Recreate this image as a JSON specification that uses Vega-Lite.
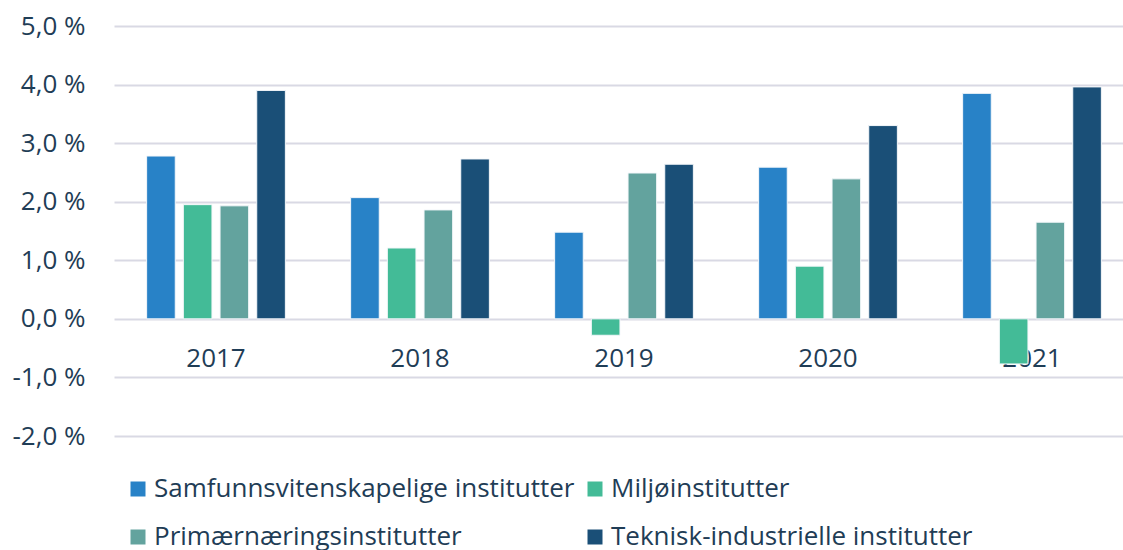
{
  "$schema": "https://vega.github.io/schema/vega-lite/v6.json",
  "width": 1009,
  "height": 410,
  "autosize": {"type": "none"},
  "padding": {"left": 114, "top": 26, "right": 0, "bottom": 114},
  "background": "white",
  "config": {"view": {"stroke": null}, "font": "Open Sans"},
  "data": {
    "values": [
      {"year": "2017", "serie": "Samfunnsvitenskapelige institutter", "value": 2.78},
      {"year": "2017", "serie": "Miljøinstitutter", "value": 1.95},
      {"year": "2017", "serie": "Primærnæringsinstitutter", "value": 1.93},
      {"year": "2017", "serie": "Teknisk-industrielle institutter", "value": 3.90},
      {"year": "2018", "serie": "Samfunnsvitenskapelige institutter", "value": 2.07},
      {"year": "2018", "serie": "Miljøinstitutter", "value": 1.21},
      {"year": "2018", "serie": "Primærnæringsinstitutter", "value": 1.86},
      {"year": "2018", "serie": "Teknisk-industrielle institutter", "value": 2.73},
      {"year": "2019", "serie": "Samfunnsvitenskapelige institutter", "value": 1.48},
      {"year": "2019", "serie": "Miljøinstitutter", "value": -0.28},
      {"year": "2019", "serie": "Primærnæringsinstitutter", "value": 2.49},
      {"year": "2019", "serie": "Teknisk-industrielle institutter", "value": 2.64},
      {"year": "2020", "serie": "Samfunnsvitenskapelige institutter", "value": 2.59},
      {"year": "2020", "serie": "Miljøinstitutter", "value": 0.90},
      {"year": "2020", "serie": "Primærnæringsinstitutter", "value": 2.39},
      {"year": "2020", "serie": "Teknisk-industrielle institutter", "value": 3.30},
      {"year": "2021", "serie": "Samfunnsvitenskapelige institutter", "value": 3.85},
      {"year": "2021", "serie": "Miljøinstitutter", "value": -0.77},
      {"year": "2021", "serie": "Primærnæringsinstitutter", "value": 1.65},
      {"year": "2021", "serie": "Teknisk-industrielle institutter", "value": 3.96}
    ]
  },
  "mark": {"type": "bar", "stroke": "#f4f7fa", "strokeWidth": 1},
  "encoding": {
    "x": {
      "field": "year",
      "type": "nominal",
      "scale": {"paddingInner": 0.32, "paddingOuter": 0.16, "range": [0, 1020]},
      "axis": {
        "title": null,
        "orient": "bottom",
        "offset": -117,
        "domain": false,
        "ticks": false,
        "grid": false,
        "labelAngle": 0,
        "labelFontSize": 26,
        "labelColor": "#1f3d56",
        "labelPadding": 26
      }
    },
    "xOffset": {
      "field": "serie",
      "type": "nominal",
      "sort": ["Samfunnsvitenskapelige institutter", "Miljøinstitutter", "Primærnæringsinstitutter", "Teknisk-industrielle institutter"],
      "scale": {"paddingInner": 0.22, "paddingOuter": 0}
    },
    "y": {
      "field": "value",
      "type": "quantitative",
      "scale": {"domain": [-2, 5], "nice": false, "zero": false},
      "axis": {
        "title": null,
        "values": [-2, -1, 0, 1, 2, 3, 4, 5],
        "labelExpr": "(datum.value < 0 ? '-' : '') + replace(format(abs(datum.value), '.1f'), '.', ',') + ' %'",
        "domain": false,
        "ticks": false,
        "grid": true,
        "gridColor": "#d9d9e4",
        "gridWidth": 2,
        "labelFontSize": 26,
        "labelColor": "#1f3d56",
        "labelPadding": 29
      }
    },
    "color": {
      "field": "serie",
      "type": "nominal",
      "sort": ["Samfunnsvitenskapelige institutter", "Miljøinstitutter", "Primærnæringsinstitutter", "Teknisk-industrielle institutter"],
      "scale": {
        "domain": ["Samfunnsvitenskapelige institutter", "Miljøinstitutter", "Primærnæringsinstitutter", "Teknisk-industrielle institutter"],
        "range": ["#2882c7", "#43bb97", "#63a39e", "#1a4f77"]
      },
      "legend": {
        "title": null,
        "orient": "none",
        "legendX": 11,
        "legendY": 450,
        "direction": "horizontal",
        "columns": 2,
        "symbolType": "square",
        "symbolSize": 225,
        "symbolStrokeWidth": 0,
        "labelFontSize": 26,
        "labelColor": "#1f3d56",
        "labelLimit": 0,
        "labelOffset": 3,
        "columnPadding": 7,
        "rowPadding": 22
      }
    }
  }
}
